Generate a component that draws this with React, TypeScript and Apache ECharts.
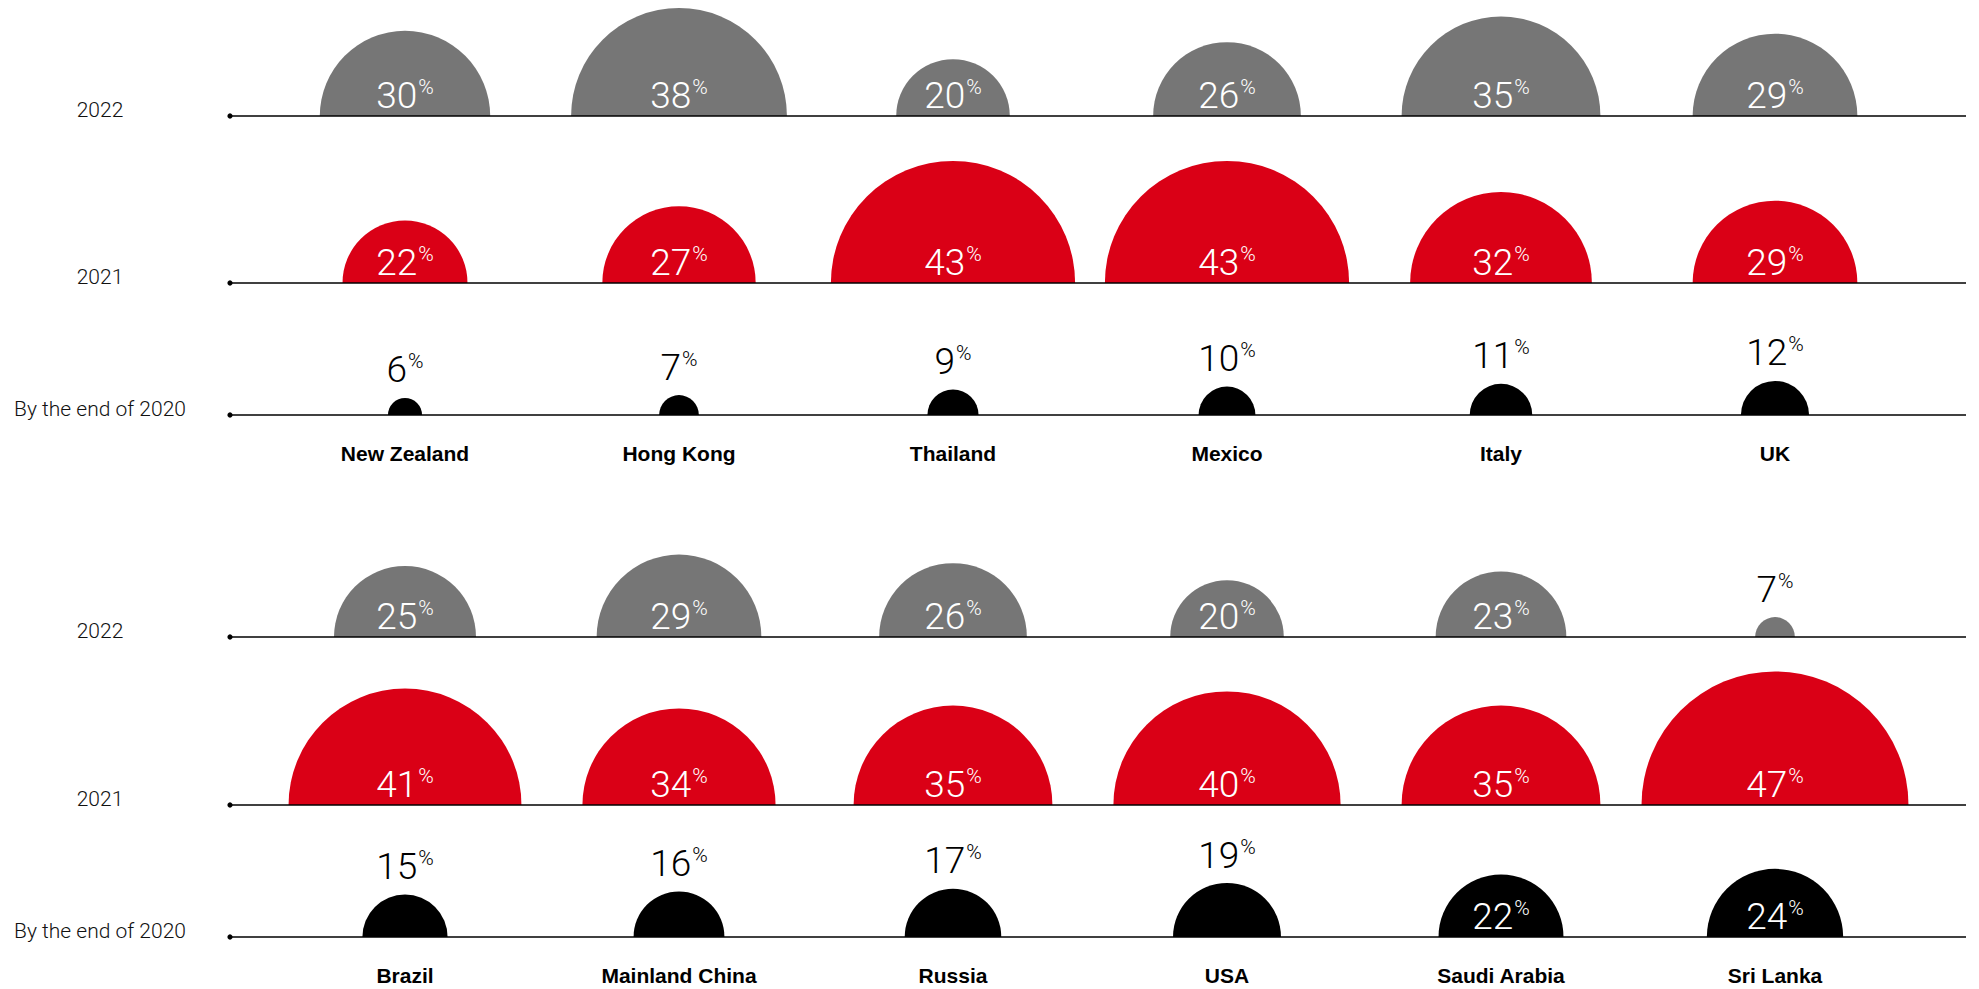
import React, { useEffect, useRef } from "react";
import * as echarts from "echarts";

const countriesTop = ["New Zealand", "Hong Kong", "Thailand", "Mexico", "Italy", "UK"];
const top2022 = [30, 38, 20, 26, 35, 29];
const top2021 = [22, 27, 43, 43, 32, 29];
const top2020 = [6, 7, 9, 10, 11, 12];

const countriesBottom = ["Brazil", "Mainland China", "Russia", "USA", "Saudi Arabia", "Sri Lanka"];
const bottom2022 = [25, 29, 26, 20, 23, 7];
const bottom2021 = [41, 34, 35, 40, 35, 47];
const bottom2020 = [15, 16, 17, 19, 22, 24];

const rowLabels = ["2022", "2021", "By the end of 2020"];
const rowColors = ["#767676", "#da0016", "#000000"];

const FONT = "Roboto, 'Liberation Sans', Arial, sans-serif";
const BOLD_FONT = "'Liberation Sans', Arial, Roboto, sans-serif";
const BASELINES = [116, 283, 415, 637, 805, 937];
const PX_PER_UNIT = 2.84;
const Y_MAX = 40;
const GRID_LEFT = 268;
const GRID_WIDTH = 1644;
const LINE_X1 = 230;
const LINE_X2 = 1966;

export default function App() {
  const ref = useRef<HTMLDivElement>(null);
  useEffect(() => {
    if (!ref.current) return;
    const chart = echarts.init(ref.current, null, { renderer: "svg" });
    const panels = [
      { countries: countriesTop, rows: [top2022, top2021, top2020] },
      { countries: countriesBottom, rows: [bottom2022, bottom2021, bottom2020] },
    ];
    const grids: any[] = [];
    const xAxes: any[] = [];
    const yAxes: any[] = [];
    const series: any[] = [];
    const graphics: any[] = [];
    const H = Y_MAX * PX_PER_UNIT;
    let gi = 0;
    panels.forEach((p) => {
      p.rows.forEach((vals, ri) => {
        const base = BASELINES[gi];
        grids.push({ left: GRID_LEFT, width: GRID_WIDTH, top: base - H, height: H, containLabel: false });
        xAxes.push({
          type: "category",
          gridIndex: gi,
          data: p.countries,
          axisLine: { show: false },
          axisTick: { show: false },
          splitLine: { show: false },
          axisLabel: {
            show: ri === 2,
            interval: 0,
            margin: 28,
            fontSize: 21,
            fontWeight: "bold",
            color: "#000",
            fontFamily: BOLD_FONT,
          },
        });
        yAxes.push({
          type: "value",
          gridIndex: gi,
          min: 0,
          max: Y_MAX,
          show: false,
          splitLine: { show: false },
        });
        const color = rowColors[ri];
        series.push({
          type: "custom",
          xAxisIndex: gi,
          yAxisIndex: gi,
          data: vals.map((v, i) => [i, v]),
          encode: { x: 0, y: 1 },
          clip: false,
          renderItem: (params: any, api: any) => {
            const idx = api.value(0);
            const v = api.value(1);
            const c = api.coord([idx, 0]);
            const r = api.size([0, v], [idx, v])[1];
            const inside = v >= 20;
            const fill = inside ? "#fff" : "#000";
            return {
              type: "group",
              children: [
                {
                  type: "sector",
                  shape: { cx: c[0], cy: c[1], r0: 0, r, startAngle: Math.PI, endAngle: Math.PI * 2, clockwise: true },
                  style: { fill: color },
                },
                {
                  type: "text",
                  x: c[0],
                  y: inside ? c[1] - 2 : c[1] - r - 9,
                  z2: 10,
                  style: {
                    text: `{n|${v}}{p|%}`,
                    align: "center",
                    verticalAlign: "bottom",
                    rich: {
                      n: { fontSize: 37, lineHeight: 38, fontWeight: 300, fontFamily: FONT, fill },
                      p: { fontSize: 21, lineHeight: 24, fontWeight: 300, fontFamily: FONT, fill, verticalAlign: "top", padding: [0, 0, 0, 1] },
                    },
                  },
                },
              ],
            };
          },
        });
        graphics.push({
          type: "line",
          z: 50,
          shape: { x1: LINE_X1, y1: base, x2: LINE_X2, y2: base },
          style: { stroke: "#000", lineWidth: 1.6 },
        });
        graphics.push({
          type: "circle",
          z: 50,
          shape: { cx: LINE_X1, cy: base, r: 2.6 },
          style: { fill: "#000" },
        });
        graphics.push({
          type: "text",
          z: 50,
          x: 100,
          y: base + 4,
          style: {
            text: rowLabels[ri],
            align: "center",
            verticalAlign: "bottom",
            fontSize: 21,
            fontWeight: 300,
            fontFamily: FONT,
            fill: "#111",
          },
        });
        gi++;
      });
    });
    chart.setOption({
      animation: false,
      backgroundColor: "#ffffff",
      grid: grids,
      xAxis: xAxes,
      yAxis: yAxes,
      series,
      graphic: graphics,
    });
    return () => chart.dispose();
  }, []);
  return <div ref={ref} style={{ position: "fixed", left: 0, top: 0, width: 1979, height: 989 }} />;
}
